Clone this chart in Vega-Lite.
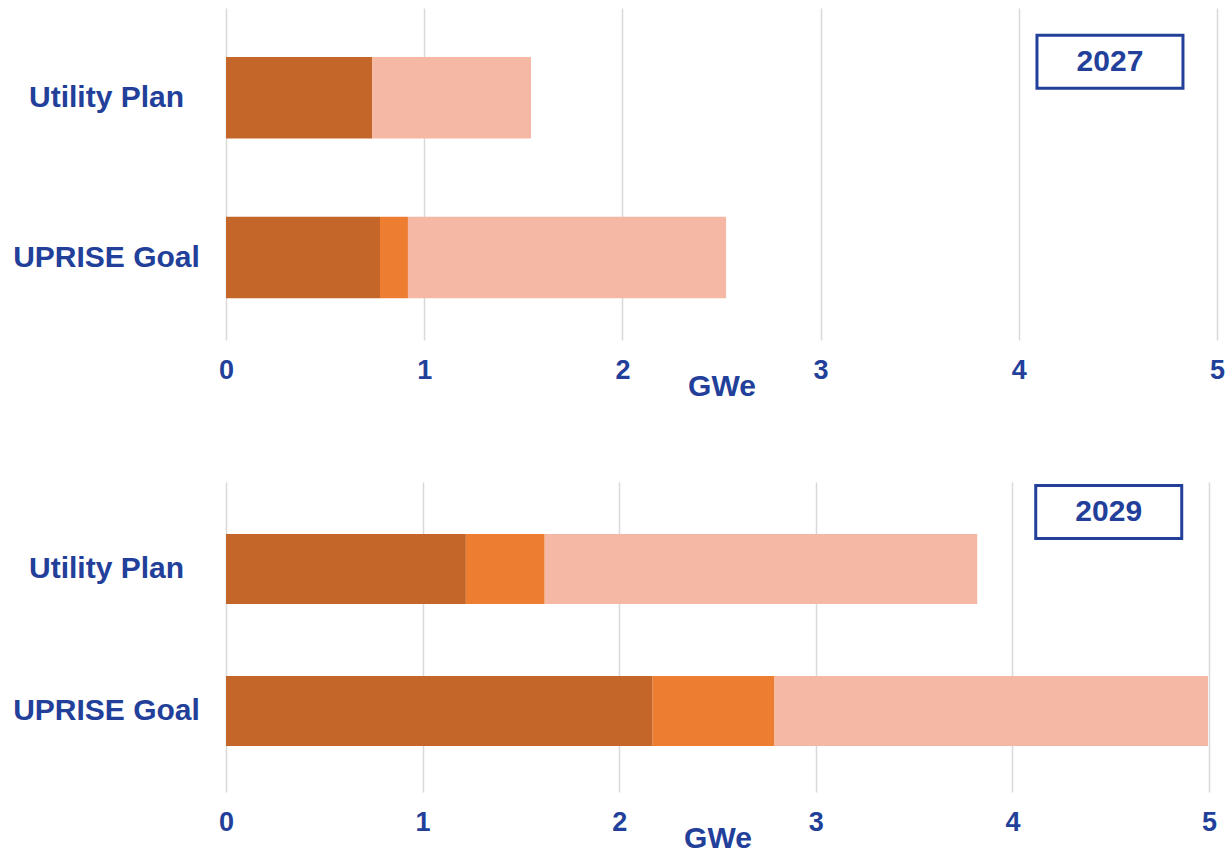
{
  "$schema": "https://vega.github.io/schema/vega-lite/v6.json",
  "padding": {"left": 12, "top": 8, "right": 0, "bottom": 0},
  "background": "white",
  "config": {
    "view": {"stroke": null},
    "font": "Liberation Sans",
    "axisX": {
      "grid": true, "gridColor": "#D9D9D9", "gridWidth": 1.5, "ticks": false, "domain": false,
      "labelFontSize": 27, "labelFontWeight": "bold", "labelColor": "#22409A", "labelPadding": 17,
      "labelFlush": false, "labelOverlap": false, "format": "d",
      "titleFontSize": 30, "titleFontWeight": "bold", "titleColor": "#22409A", "titlePadding": -12
    },
    "axisY": {
      "grid": false, "ticks": false, "domain": false, "title": null,
      "labelFontSize": 30, "labelFontWeight": "bold", "labelColor": "#22409A",
      "labelAlign": "center", "labelPadding": 120, "labelLimit": 0
    }
  },
  "datasets": {
    "bars": [
      {"year": 2027, "category": "Utility Plan", "segment": "A", "order": 1, "value": 0.737},
      {"year": 2027, "category": "Utility Plan", "segment": "B", "order": 2, "value": 0.0},
      {"year": 2027, "category": "Utility Plan", "segment": "C", "order": 3, "value": 0.802},
      {"year": 2027, "category": "UPRISE Goal", "segment": "A", "order": 1, "value": 0.777},
      {"year": 2027, "category": "UPRISE Goal", "segment": "B", "order": 2, "value": 0.141},
      {"year": 2027, "category": "UPRISE Goal", "segment": "C", "order": 3, "value": 1.605},
      {"year": 2029, "category": "Utility Plan", "segment": "A", "order": 1, "value": 1.22},
      {"year": 2029, "category": "Utility Plan", "segment": "B", "order": 2, "value": 0.401},
      {"year": 2029, "category": "Utility Plan", "segment": "C", "order": 3, "value": 2.2},
      {"year": 2029, "category": "UPRISE Goal", "segment": "A", "order": 1, "value": 2.17},
      {"year": 2029, "category": "UPRISE Goal", "segment": "B", "order": 2, "value": 0.62},
      {"year": 2029, "category": "UPRISE Goal", "segment": "C", "order": 3, "value": 2.205}
    ],
    "years": [
      {"year": 2027, "label": "2027", "category": "Utility Plan", "x": 4.46},
      {"year": 2029, "label": "2029", "category": "Utility Plan", "x": 4.49}
    ]
  },
  "spacing": 78,
  "vconcat": [
    {
      "width": 991,
      "height": 332,
      "layer": [
        {
          "data": {"name": "bars"},
          "transform": [{"filter": "datum.year == 2027"}],
          "mark": {"type": "bar"},
          "encoding": {
            "y": {"field": "category", "type": "nominal", "sort": ["Utility Plan", "UPRISE Goal"],
                  "scale": {"paddingInner": 0.49, "paddingOuter": 0.284, "align": 0.54}},
            "x": {"field": "value", "type": "quantitative", "stack": "zero",
                  "scale": {"domain": [0, 5], "nice": false},
                  "axis": {"values": [0, 1, 2, 3, 4, 5], "title": "GWe"}},
            "color": {"field": "segment", "type": "nominal",
                      "scale": {"domain": ["A", "B", "C"], "range": ["#C4662A", "#ED7D31", "#F4B8A4"]},
                      "legend": null},
            "order": {"field": "order", "type": "quantitative"}
          }
        },
        {
          "data": {"name": "years"},
          "transform": [{"filter": "datum.year == 2027"}],
          "mark": {"type": "point", "shape": "M-1,-0.363H1V0.363H-1Z", "size": 21316,
                   "fill": "white", "stroke": "#22409A", "strokeWidth": 3, "opacity": 1, "yOffset": -36},
          "encoding": {
            "y": {"field": "category", "type": "nominal", "sort": ["Utility Plan", "UPRISE Goal"]},
            "x": {"field": "x", "type": "quantitative"}
          }
        },
        {
          "data": {"name": "years"},
          "transform": [{"filter": "datum.year == 2027"}],
          "mark": {"type": "text", "fontSize": 30, "fontWeight": "bold", "color": "#22409A",
                   "baseline": "middle", "align": "center", "yOffset": -36},
          "encoding": {
            "y": {"field": "category", "type": "nominal", "sort": ["Utility Plan", "UPRISE Goal"]},
            "x": {"field": "x", "type": "quantitative"},
            "text": {"field": "label"}
          }
        }
      ]
    },
    {
      "width": 983,
      "height": 310,
      "layer": [
        {
          "data": {"name": "bars"},
          "transform": [{"filter": "datum.year == 2029"}],
          "mark": {"type": "bar"},
          "encoding": {
            "y": {"field": "category", "type": "nominal", "sort": ["Utility Plan", "UPRISE Goal"],
                  "scale": {"paddingInner": 0.507, "paddingOuter": 0.345, "align": 0.53}},
            "x": {"field": "value", "type": "quantitative", "stack": "zero",
                  "scale": {"domain": [0, 5], "nice": false},
                  "axis": {"values": [0, 1, 2, 3, 4, 5], "title": "GWe"}},
            "color": {"field": "segment", "type": "nominal",
                      "scale": {"domain": ["A", "B", "C"], "range": ["#C4662A", "#ED7D31", "#F4B8A4"]},
                      "legend": null},
            "order": {"field": "order", "type": "quantitative"}
          }
        },
        {
          "data": {"name": "years"},
          "transform": [{"filter": "datum.year == 2029"}],
          "mark": {"type": "point", "shape": "M-1,-0.363H1V0.363H-1Z", "size": 21316,
                   "fill": "white", "stroke": "#22409A", "strokeWidth": 3, "opacity": 1, "yOffset": -57},
          "encoding": {
            "y": {"field": "category", "type": "nominal", "sort": ["Utility Plan", "UPRISE Goal"]},
            "x": {"field": "x", "type": "quantitative"}
          }
        },
        {
          "data": {"name": "years"},
          "transform": [{"filter": "datum.year == 2029"}],
          "mark": {"type": "text", "fontSize": 30, "fontWeight": "bold", "color": "#22409A",
                   "baseline": "middle", "align": "center", "yOffset": -57},
          "encoding": {
            "y": {"field": "category", "type": "nominal", "sort": ["Utility Plan", "UPRISE Goal"]},
            "x": {"field": "x", "type": "quantitative"},
            "text": {"field": "label"}
          }
        }
      ]
    }
  ]
}
